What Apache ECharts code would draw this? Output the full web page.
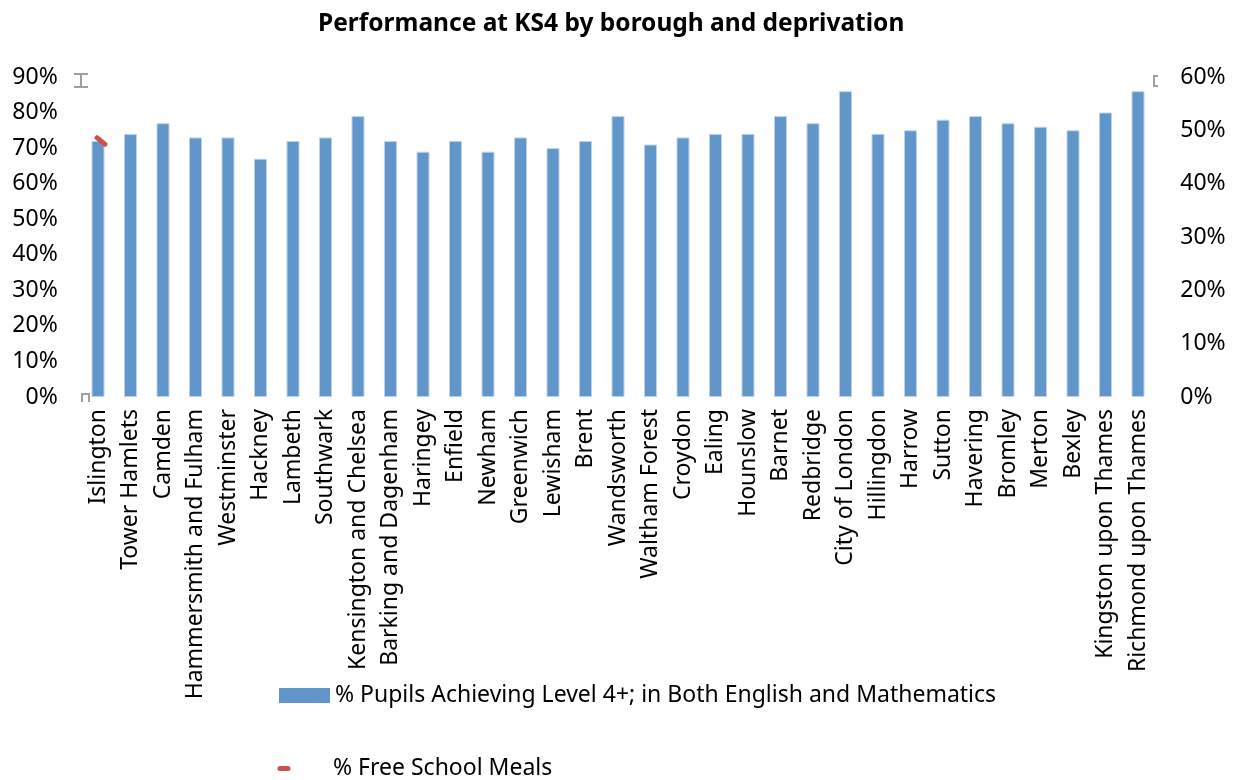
<!DOCTYPE html>
<html>
<head>
<meta charset="utf-8">
<script src="https://cdn.jsdelivr.net/npm/echarts@6/dist/echarts.min.js"></script>
<style>
  html, body { margin: 0; padding: 0; background: #fff; }
  #chart { width: 1239px; height: 780px; }
</style>
</head>
<body>
<div id="chart"></div>
<script>
// boroughs, ordered as in the source chart
var boroughs = ['Islington', 'Tower Hamlets', 'Camden', 'Hammersmith and Fulham', 'Westminster',
  'Hackney', 'Lambeth', 'Southwark', 'Kensington and Chelsea', 'Barking and Dagenham',
  'Haringey', 'Enfield', 'Newham', 'Greenwich', 'Lewisham', 'Brent', 'Wandsworth',
  'Waltham Forest', 'Croydon', 'Ealing', 'Hounslow', 'Barnet', 'Redbridge', 'City of London',
  'Hillingdon', 'Harrow', 'Sutton', 'Havering', 'Bromley', 'Merton', 'Bexley',
  'Kingston upon Thames', 'Richmond upon Thames'];

// % pupils achieving level 4+ in both English and Maths (left axis)
var level4 = [72, 74, 77, 73, 73, 67, 72, 73, 79, 72, 69, 72, 69, 73, 70, 72, 79,
  71, 73, 74, 74, 79, 77, 86, 74, 75, 78, 79, 77, 76, 75, 80, 86];

// % free school meals (right axis) - only the Islington mark is visible
var fsm = [48];
while (fsm.length < boroughs.length) fsm.push(null);

var leftTicks = { min: 0, max: 90, interval: 10 };
var rightTicks = { min: 0, max: 60, interval: 10 };

var font = 'Noto Sans';
var chart = echarts.init(document.getElementById('chart'));

var grey = '#a0a0a0';
var option = {
  animation: false,
  title: {
    text: 'Performance at KS4 by borough and deprivation',
    left: 313,
    top: 7,
    textStyle: { fontFamily: font, fontSize: 24.5, fontWeight: 'bold', color: '#000' }
  },
  legend: [{
    data: [{ name: '% Pupils Achieving Level 4+; in Both English and Mathematics', icon: 'rect' }],
    left: 279,
    top: 684,
    itemWidth: 51,
    itemHeight: 15,
    itemGap: 0,
    padding: 0,
    itemStyle: { borderWidth: 0 },
    textStyle: { fontFamily: font, fontSize: 23, color: '#000' }
  }, {
    data: [{
      name: '% Free School Meals',
      icon: 'path://M3,5 L11,5 A2.5,2.5 0 0 1 11,10 L3,10 A2.5,2.5 0 0 1 3,5 Z M51,0 M51,15 M0,0'
    }],
    left: 277,
    top: 757,
    itemWidth: 51,
    itemHeight: 15,
    padding: 0,
    textStyle: { fontFamily: font, fontSize: 23, color: '#000' }
  }],
  grid: { left: 81.75, right: 84.75, top: 77, bottom: 383, containLabel: false },
  xAxis: {
    type: 'category',
    data: boroughs,
    axisLine: { show: false },
    axisTick: { show: false },
    axisLabel: {
      rotate: 90,
      interval: 0,
      margin: 12,
      fontFamily: font,
      fontSize: 23,
      color: '#000'
    }
  },
  yAxis: [{
    type: 'value',
    min: leftTicks.min,
    max: leftTicks.max,
    interval: leftTicks.interval,
    axisLine: { show: false },
    axisTick: { show: false },
    splitLine: { show: false },
    axisLabel: {
      formatter: '{value}%',
      margin: 24,
      fontFamily: font,
      fontSize: 23,
      color: '#000'
    }
  }, {
    type: 'value',
    position: 'right',
    min: rightTicks.min,
    max: rightTicks.max,
    interval: rightTicks.interval,
    axisLine: { show: false },
    axisTick: { show: false },
    splitLine: { show: false },
    axisLabel: {
      formatter: '{value}%',
      margin: 26,
      fontFamily: font,
      fontSize: 23,
      color: '#000'
    }
  }],
  series: [{
    name: '% Pupils Achieving Level 4+; in Both English and Mathematics',
    type: 'bar',
    data: level4,
    barWidth: 13,
    itemStyle: { color: '#6096c9', borderColor: '#bcd2ea', borderWidth: 1 }
  }, {
    name: '% Free School Meals',
    type: 'line',
    yAxisIndex: 1,
    data: fsm,
    showSymbol: true,
    symbol: 'roundRect',
    symbolSize: [15, 5],
    symbolRotate: -40,
    symbolOffset: [3, 0],
    itemStyle: { color: '#c9534c' },
    lineStyle: { color: '#c9534c', width: 0 }
  }],
  graphic: [
    { type: 'polyline', shape: { points: [[74, 74], [88, 74]] }, style: { stroke: grey, lineWidth: 2 } },
    { type: 'polyline', shape: { points: [[81, 74], [81, 87]] }, style: { stroke: grey, lineWidth: 2 } },
    { type: 'polyline', shape: { points: [[74, 87], [88, 87]] }, style: { stroke: grey, lineWidth: 2 } },
    { type: 'polyline', shape: { points: [[82, 402], [82, 394], [89, 394], [89, 402]] }, style: { stroke: grey, lineWidth: 2, fill: null } },
    { type: 'polyline', shape: { points: [[1158, 76], [1154, 76], [1154, 86], [1158, 86]] }, style: { stroke: grey, lineWidth: 2, fill: null } }
  ]
};

chart.setOption(option);
</script>
</body>
</html>
